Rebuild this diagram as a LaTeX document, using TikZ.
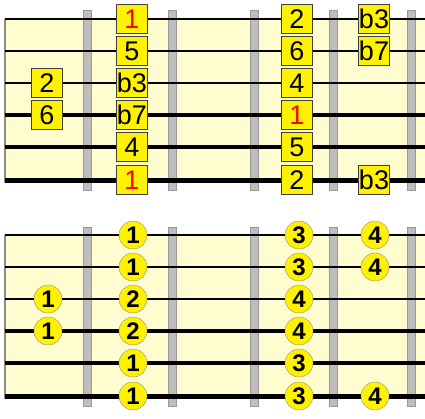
\documentclass[tikz,border=0pt]{standalone}
\usepackage{fontspec}
\setmainfont{Liberation Sans}
\definecolor{board}{RGB}{255,253,208}
\definecolor{fretgray}{RGB}{190,190,190}

\begin{document}
\begin{tikzpicture}[x=1pt, y=-1pt,
    note node/.style={rectangle,fill=yellow,draw=black!75,minimum width=31pt,minimum height=29pt,inner sep=0pt,font=\fontsize{27}{27}\selectfont},
    finger node/.style={circle,fill=yellow,draw=black!45,minimum size=28pt,inner sep=0pt,font=\bfseries\fontsize{24}{24}\selectfont},
    fret bar/.style={fill=fretgray,draw=black!40,line width=0.8pt},
    root/.style={text=red}]
    \useasboundingbox (0,0) rectangle (425,418);

    % boards, frets, nut and strings
    \fill[board] (5,19) rectangle (425,183);
    \fill[board] (5,235) rectangle (425,399);
    \foreach \x in {87,172,254,333,411} {
        \draw[fret bar] (\x-4,10) rectangle (\x+4,190);
        \draw[fret bar] (\x-4,227) rectangle (\x+4,406);
    }
    \draw[black!45, line width=1.5pt] (5,19) -- (5,183);
    \draw[black!45, line width=1.5pt] (5,235) -- (5,399);
    \foreach \y/\w in {19/2,51/2.4,83/2.8,115/3.2,147/4,180/5} {
        \draw[line width=\w pt] (5,\y) -- (425,\y);
        \draw[line width=\w pt] (5,\y+216) -- (425,\y+216);
    }

    % intervals
    \node[note node, root] (t1b) at (132,19) {1};
    \node[note node] (t1c) at (297,19) {2};
    \node[note node] (t1d) at (374,19) {b3};
    \node[note node] (t2b) at (132,51) {5};
    \node[note node] (t2c) at (297,51) {6};
    \node[note node] (t2d) at (374,51) {b7};
    \node[note node] (t3a) at (47,83) {2};
    \node[note node] (t3b) at (132,83) {b3};
    \node[note node] (t3c) at (297,83) {4};
    \node[note node] (t4a) at (47,115) {6};
    \node[note node] (t4b) at (132,115) {b7};
    \node[note node, root] (t4c) at (297,115) {1};
    \node[note node] (t5b) at (132,147) {4};
    \node[note node] (t5c) at (297,147) {5};
    \node[note node, root] (t6b) at (132,180) {1};
    \node[note node] (t6c) at (297,180) {2};
    \node[note node] (t6d) at (374,180) {b3};

    % fingering
    \node[finger node] (f1b) at (133,235) {1};
    \node[finger node] (f1c) at (299,235) {3};
    \node[finger node] (f1d) at (375,235) {4};
    \node[finger node] (f2b) at (133,267) {1};
    \node[finger node] (f2c) at (299,267) {3};
    \node[finger node] (f2d) at (375,267) {4};
    \node[finger node] (f3a) at (48,299) {1};
    \node[finger node] (f3b) at (133,299) {2};
    \node[finger node] (f3c) at (299,299) {4};
    \node[finger node] (f4a) at (48,331) {1};
    \node[finger node] (f4b) at (133,331) {2};
    \node[finger node] (f4c) at (299,331) {4};
    \node[finger node] (f5b) at (133,363) {1};
    \node[finger node] (f5c) at (299,363) {3};
    \node[finger node] (f6b) at (133,396) {1};
    \node[finger node] (f6c) at (299,396) {3};
    \node[finger node] (f6d) at (375,396) {4};
\end{tikzpicture}
\end{document}
